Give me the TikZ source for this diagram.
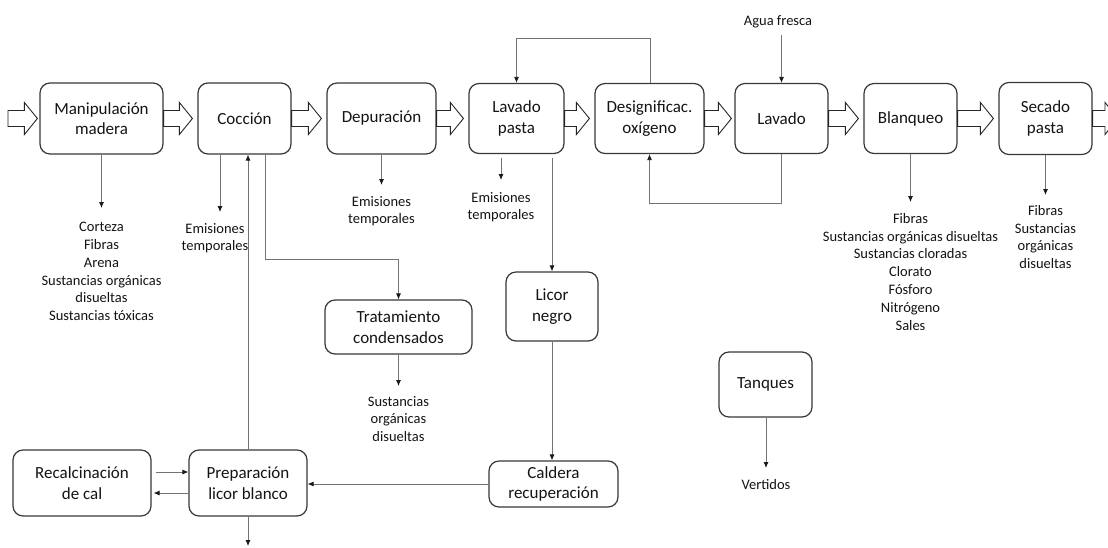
\documentclass[tikz,border=0pt]{standalone}
\usepackage{fontspec}
\setmainfont{Carlito}
\usetikzlibrary{arrows.meta,calc}
% hollow block arrow between process steps: #1 start point, #2 tip
\newcommand{\hollowarrow}[2]{%
  \draw[barrow] ($(#1)+(0,8)$) -- ($(#2)+(-13,8)$) -- ($(#2)+(-13,16)$) -- (#2)
    -- ($(#2)+(-13,-16)$) -- ($(#2)+(-13,-8)$) -- ($(#1)+(0,-8)$) -- cycle;}
\begin{document}
\begin{tikzpicture}[x=1pt,y=-1pt,
  box/.style={draw=black!78, line width=1.2pt, rounded corners=10pt, align=center,
    font=\fontsize{17}{20.5}\selectfont, text=black!92, inner sep=0pt},
  note/.style={align=center, font=\fontsize{14.5}{17.8}\selectfont, text=black!92,
    inner sep=0pt, anchor=north},
  flow/.style={draw=black!55, line width=0.8pt, -{Latex[length=6pt,width=5pt,color=black!90]}},
  barrow/.style={draw=black!85, line width=0.9pt, fill=white, line join=miter}]
\clip (0,0) rectangle (1108,547);
\fill[white] (0,0) rectangle (1108,547);

% main line
\node[box, minimum width=123pt, minimum height=71pt] (manip) at (101.5,118.5) {Manipulación\\madera};
\node[box, minimum width=93pt, minimum height=71pt] (coccion) at (244.5,118.5) {Cocción};
\node[box, minimum width=109pt, minimum height=71pt] (depur) at (381.5,118.5) {Depuración};
\node[box, minimum width=95pt, minimum height=70pt] (lavp) at (516.5,118.5) {Lavado\\pasta};
\node[box, minimum width=109pt, minimum height=70pt] (desig) at (649.5,118.5) {Designificac.\\oxígeno};
\node[box, minimum width=93pt, minimum height=70pt] (lavado) at (781.5,118.5) {Lavado};
\node[box, minimum width=93pt, minimum height=70pt] (blanq) at (910.5,118.5) {Blanqueo};
\node[box, minimum width=93pt, minimum height=72pt] (secado) at (1045.5,118.5) {Secado\\pasta};

% secondary units
\node[box, minimum width=147pt, minimum height=54pt] (tratam) at (398.5,327) {Tratamiento\\condensados};
\node[box, minimum width=92pt, minimum height=69pt] (licor) at (552,306.5) {Licor\\negro};
\node[box, minimum width=129pt, minimum height=46pt] (caldera) at (553.5,484) {Caldera\\recuperación};
\node[box, minimum width=118pt, minimum height=66pt] (prep) at (248,483) {Preparación\\licor blanco};
\node[box, minimum width=138pt, minimum height=66pt] (recal) at (82,483) {Recalcinación\\de cal};
\node[box, minimum width=93pt, minimum height=65pt] (tanques) at (765.5,384.5) {Tanques};

% block arrows of the pulp line
\coordinate (in) at (8,118.5);
\coordinate (out) at (1118,118.5);
\hollowarrow{in}{[xshift=-2pt]manip.west}
\hollowarrow{manip.east}{[xshift=-5pt]coccion.west}
\hollowarrow{coccion.east}{[xshift=-5pt]depur.west}
\hollowarrow{depur.east}{[xshift=-5pt]lavp.west}
\hollowarrow{lavp.east}{[xshift=-5pt]desig.west}
\hollowarrow{desig.east}{[xshift=-3pt]lavado.west}
\hollowarrow{lavado.east}{[xshift=-5pt]blanq.west}
\hollowarrow{blanq.east}{[xshift=-5pt]secado.west}
\hollowarrow{secado.east}{out}

% emissions
\node[note] (lmanip) at (101.5,222) {Corteza\\Fibras\\Arena\\Sustancias orgánicas\\disueltas\\Sustancias tóxicas};
\coordinate (e1) at (101.5,208);
\draw[flow] (manip.south) -- (e1);

\node[note] (lcoc) at (215,223) {Emisiones\\temporales};
\coordinate (e2) at (220,212);
\draw[flow] (e2 |- coccion.south) -- (e2);

\node[note] (ldep) at (381.5,196) {Emisiones\\temporales};
\coordinate (e3) at (381.5,185);
\draw[flow] (depur.south) -- (e3);

\node[note] (llav) at (501,192) {Emisiones\\temporales};
\coordinate (e4) at (501,180);
\draw[flow] ([yshift=-4pt]e4 |- lavp.south) -- (e4);

\node[note] (lbla) at (910.5,213) {Fibras\\Sustancias orgánicas disueltas\\Sustancias cloradas\\Clorato\\Fósforo\\Nitrógeno\\Sales};
\coordinate (e5) at (910.5,202);
\draw[flow] (blanq.south) -- (e5);

\node[note] (lsec) at (1045.5,205) {Fibras\\Sustancias\\orgánicas\\disueltas};
\coordinate (e6) at (1045.5,195);
\draw[flow] (secado.south) -- (e6);

\node[note] (ltra) at (398.5,396) {Sustancias\\orgánicas\\disueltas};
\coordinate (e7) at (398.5,386);
\draw[flow] (tratam.south) -- (e7);

\node[note] (ltan) at (766,479) {Vertidos};
\coordinate (e8) at (766,468);
\draw[flow] (e8 |- tanques.south) -- (e8);

% fresh water and washing loops
\node[note, anchor=center] (agua) at (778,22) {Agua fresca};
\coordinate (a1) at (781.5,35);
\draw[flow] (a1) -- (lavado.north);
\coordinate (t1) at (650,38);
\draw[flow] (t1 |- desig.north) -- (t1) -| (lavp.north);
\coordinate (b1) at (781.5,203);
\draw[flow] (lavado.south) -- (b1) -| (desig.south);

% liquor cycle
\coordinate (c1) at (265,259);
\draw[flow] (c1 |- coccion.south) -- (c1) -| (tratam.north);
\draw[flow] ([yshift=-4pt]licor.north |- lavp.south) -- (licor.north);
\draw[flow] (licor.south) -- (licor.south |- caldera.north);
\draw[flow] (caldera.west) -- (caldera.west -| prep.east);
\draw[flow] (prep.north) -- (prep.north |- coccion.south);
\draw[flow] ([xshift=4pt,yshift=11pt]recal.east) -- ([yshift=11pt]prep.west);
\draw[flow] ([yshift=-10pt]prep.west) -- ([xshift=2pt,yshift=-10pt]recal.east);
\coordinate (p1) at (248,546);
\draw[flow] (prep.south) -- (p1);
\end{tikzpicture}
\end{document}
